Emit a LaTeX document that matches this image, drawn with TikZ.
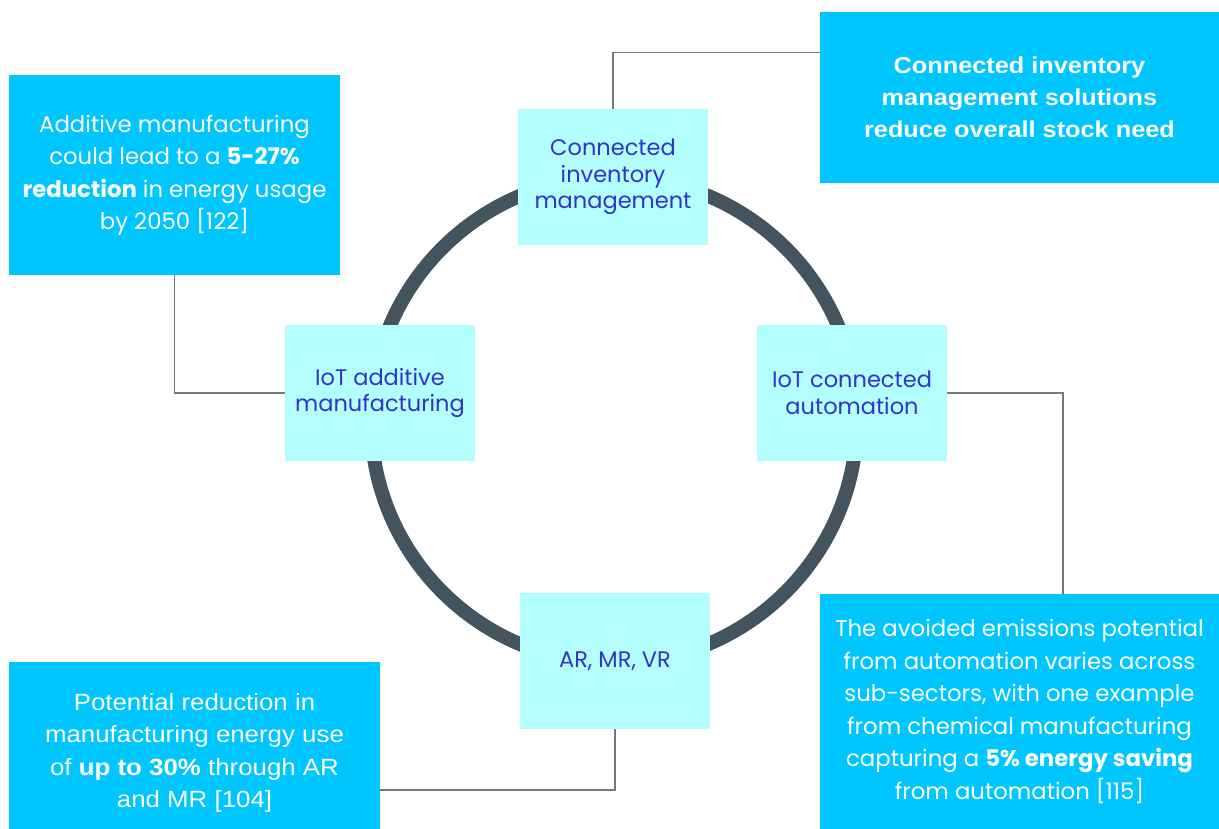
\documentclass[tikz,border=0pt]{standalone}
\usepackage{fontspec}
\setmainfont{Poppins}
\newfontfamily\narrowfont[FakeStretch=1.1]{Liberation Sans}
\usetikzlibrary{positioning}
\definecolor{ringgrey}{HTML}{44545E}
\definecolor{linkgrey}{HTML}{6E7A84}
\definecolor{calloutblue}{HTML}{00C6FF}
\definecolor{techcyan}{HTML}{B3FFFF}
\definecolor{techtext}{HTML}{3333CC}
\tikzset{
  techbox/.style={fill=techcyan, text=techtext, align=center, inner sep=0pt,
    minimum width=190pt, minimum height=136pt,
    font=\fontsize{22.5}{26.5}\selectfont},
  callout/.style={fill=calloutblue, text=white, align=center, inner sep=0pt,
    font=\fontsize{22.8}{32.5}\selectfont},
  link/.style={draw=linkgrey, line width=1.4pt},
}

\begin{document}
\begin{tikzpicture}[x=1pt, y=-1pt]
  \useasboundingbox (0,0) rectangle (1219,829);
  % the loop behind the four technologies
  \draw[ringgrey, line width=14pt] (614,420) circle[radius=243];

  \node[techbox] (inv) at (613,177) {Connected\\inventory\\management};
  \node[techbox] (add) at (380,393) {IoT additive\\manufacturing};
  \node[techbox] (aut) at (852,393) {IoT connected\\automation};
  \node[techbox] (xr)  at (615,661) {AR, MR, VR};

  \node[callout, minimum width=331pt, minimum height=200pt] (tl) at (174.5,175)
    {Additive manufacturing\\could lead to a \textbf{5-27\%}\\\textbf{reduction} in energy usage\\by 2050 [122]};
  \node[callout, minimum width=399pt, minimum height=171pt,
    font=\narrowfont\fontsize{23}{32}\selectfont] (tr) at (1019.5,97.5)
    {\textbf{Connected inventory}\\\textbf{management solutions}\\\textbf{reduce overall stock need}};
  \node[callout, minimum width=371pt, minimum height=167pt,
    font=\narrowfont\fontsize{23.5}{32.5}\selectfont] (bl) at (194.5,745.5)
    {\rule{0pt}{32pt}Potential reduction in\\manufacturing energy use\\of \textbf{up to 30\%} through AR\\and MR [104]};
  \node[callout, minimum width=399pt, minimum height=235pt] (br) at (1019.5,711.5)
    {The avoided emissions potential\\from automation varies across\\sub-sectors, with one example\\from chemical manufacturing\\capturing a \textbf{5\% energy saving}\\from automation [115]};

  % elbow links from each technology to its note
  \draw[link] (inv.north) |- ([yshift=-41pt]tr.north west);
  \draw[link] (tl.south) |- (add.west);
  \draw[link] (aut.east) -| ([xshift=243pt]br.north west);
  \draw[link] (xr.south) |- ([yshift=-128pt]bl.north east);
\end{tikzpicture}
\end{document}
